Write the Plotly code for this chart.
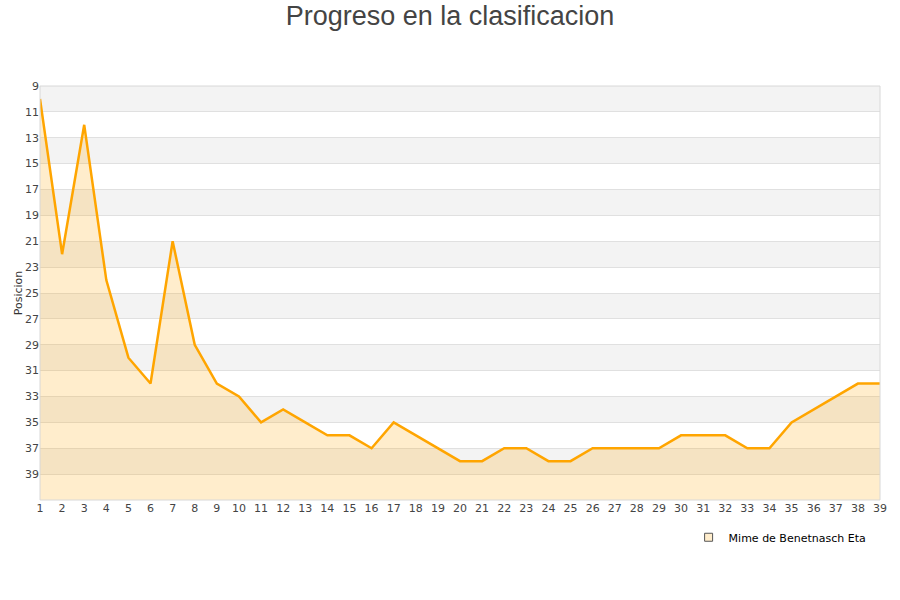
import plotly.graph_objects as go

jornadas = list(range(1, 40))
posiciones = [10, 22, 12, 24, 30, 32, 21, 29, 32, 33,
              35, 34, 35, 36, 36, 37, 35, 36, 37, 38,
              38, 37, 37, 38, 38, 37, 37, 37, 37, 36,
              36, 36, 37, 37, 35, 34, 33, 32, 32]
equipo = "Mime de Benetnasch Eta"
y_ticks = list(range(9, 41, 2))
y_min, y_max = 9, 41

fig = go.Figure()

# baseline for fill
fig.add_trace(go.Scatter(x=jornadas, y=[y_max] * len(jornadas), mode="lines",
                         line=dict(width=0, color="rgba(0,0,0,0)"),
                         showlegend=False, hoverinfo="skip"))
fig.add_trace(go.Scatter(x=jornadas, y=posiciones, mode="lines",
                         line=dict(color="#FFA500", width=2.5),
                         fill="tonexty", fillcolor="rgba(255,165,0,0.2)",
                         showlegend=False, name=equipo))
# legend entry
fig.add_trace(go.Scatter(x=[None], y=[None], mode="markers", name=equipo,
                         marker=dict(symbol="square", size=8, color="#FFEDCC",
                                     line=dict(color="#555555", width=1))))

shapes = []
for lo in range(9, 41, 4):
    shapes.append(dict(type="rect", xref="paper", yref="y", x0=0, x1=1,
                       y0=lo, y1=lo + 2, fillcolor="#F3F3F3",
                       line=dict(width=0), layer="below"))
shapes.append(dict(type="rect", xref="paper", yref="paper", x0=0, x1=1, y0=0, y1=1,
                   line=dict(color="#D8D8D8", width=1), layer="above"))

fig.update_layout(
    width=900, height=600,
    margin=dict(l=40, r=20, t=86, b=100, autoexpand=False),
    paper_bgcolor="white", plot_bgcolor="white",
    title=dict(text="Progreso en la clasificacion", x=0.5, xanchor="center",
               y=1 - 16 / 600, yanchor="middle", yref="container",
               font=dict(family="Liberation Sans, Arial", size=27, color="#444444")),
    shapes=shapes,
    xaxis=dict(range=[1, 39], tickmode="array", tickvals=jornadas,
               showgrid=False, zeroline=False, showline=False,
               tickfont=dict(family="DejaVu Sans", size=11, color="#444444"),
               ticks="", automargin=False),
    yaxis=dict(range=[y_max, y_min], tickmode="array", tickvals=y_ticks,
               showgrid=True, gridcolor="#E0E0E0", gridwidth=1, zeroline=False,
               showline=False, ticks="", automargin=False,
               tickfont=dict(family="DejaVu Sans", size=11, color="#444444"),
               title=dict(text="Posicion", standoff=0,
                          font=dict(family="DejaVu Sans", size=11, color="#333333"))),
    legend=dict(x=0.99, xanchor="right", y=-0.09, yanchor="middle",
                font=dict(family="DejaVu Sans", size=11, color="#000000"),
                bgcolor="rgba(0,0,0,0)"),
    showlegend=True,
)

fig.write_html("out.html", config={"displayModeBar": False},
               post_script="document.body.style.margin='0';document.documentElement.style.margin='0';")
